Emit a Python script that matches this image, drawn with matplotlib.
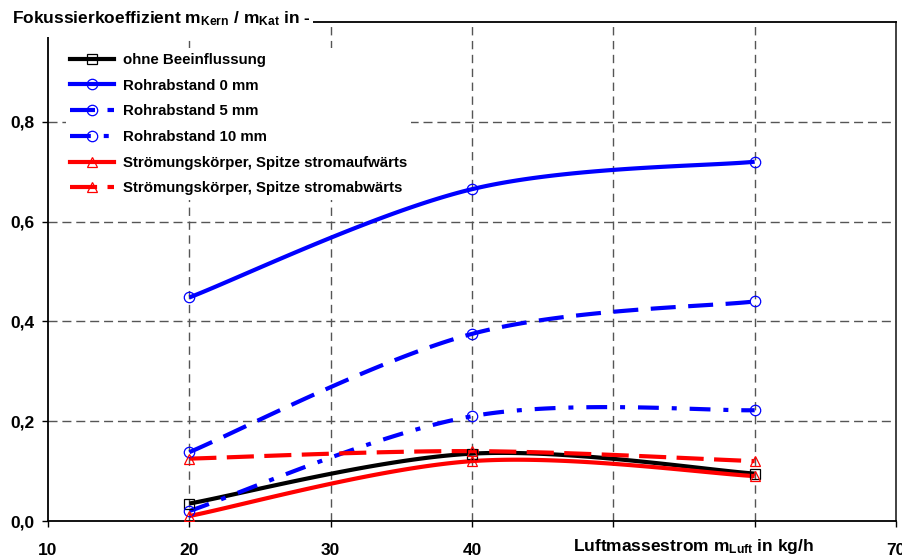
import numpy as np
import matplotlib
matplotlib.use("Agg")
import matplotlib.pyplot as plt
from matplotlib.lines import Line2D
from matplotlib.patches import Rectangle

plt.rcParams['font.family'] = ['Liberation Sans', 'DejaVu Sans']
plt.rcParams['font.weight'] = 'bold'
plt.rcParams['mathtext.fontset'] = 'custom'
plt.rcParams['mathtext.rm'] = 'Liberation Sans:bold'
plt.rcParams['mathtext.bf'] = 'Liberation Sans:bold'
plt.rcParams['mathtext.it'] = 'Liberation Sans:bold'

# ---- data ----
x_vals = [20, 40, 60]
ohne = [0.035, 0.135, 0.095]
rohr0 = [0.448, 0.665, 0.720]
rohr5 = [0.138, 0.375, 0.440]
rohr10 = [0.020, 0.210, 0.222]
auf = [0.010, 0.120, 0.090]
ab = [0.125, 0.140, 0.120]

labels = ["ohne Beeinflussung", "Rohrabstand 0 mm", "Rohrabstand 5 mm",
          "Rohrabstand 10 mm", "Strömungskörper, Spitze stromaufwärts",
          "Strömungskörper, Spitze stromabwärts"]
x_ticks = [10, 20, 30, 40, 50, 60, 70]
x_ticklabels = ["10", "20", "30", "40", "", "", "70"]
y_ticks = [0.0, 0.2, 0.4, 0.6, 0.8, 1.0]
y_ticklabels = ["0,0", "0,2", "0,4", "0,6", "0,8", ""]

fig = plt.figure(figsize=(9.03, 5.58), dpi=100)
ax = fig.add_axes([48/903, 1-521/558, 848/903, 499/558])
ax.set_xlim(10, 70)
ax.set_ylim(0, 1.0)

W, H = 848.0, 499.0


def smooth(xs, ys, n=60):
    # Excel-like Bezier smoothing in display space
    P = np.column_stack([(np.array(xs) - 10) / 60 * W, np.array(ys) * H])
    out = []
    m = len(P)
    for i in range(m - 1):
        pm = P[i - 1] if i > 0 else P[i]
        pp = P[i + 2] if i + 2 < m else P[i + 1]
        c1 = P[i] + (P[i + 1] - pm) / 6
        c2 = P[i + 1] - (pp - P[i]) / 6
        t = np.linspace(0, 1, n)[:, None]
        seg = ((1 - t) ** 3) * P[i] + 3 * ((1 - t) ** 2) * t * c1 + 3 * (1 - t) * t ** 2 * c2 + t ** 3 * P[i + 1]
        out.append(seg if i == 0 else seg[1:])
    S = np.vstack(out)
    return S[:, 0] / W * 60 + 10, S[:, 1] / H


LW = 3.0
series = [
    (ohne, 'black', '-', 's'),
    (rohr0, '#0000ff', '-', 'o'),
    (rohr5, '#0000ff', (0, (6, 3)), 'o'),
    (rohr10, '#0000ff', (0, (5, 3.1, 1.2, 3.1)), 'o'),
    (auf, '#ff0000', '-', '^'),
    (ab, '#ff0000', (0, (6.5, 2.5)), '^'),
]

handles = []
for (ys, col, ls, mk), lab in zip(series, labels):
    sx, sy = smooth(x_vals, ys)
    ax.plot(sx, sy, color=col, lw=LW, ls=ls, zorder=3, solid_capstyle='butt',
            dash_capstyle='butt')
    ax.plot(x_vals, ys, ls='none', marker=mk, markersize=7.5, markerfacecolor='none',
            markeredgecolor=col, markeredgewidth=0.9, zorder=4)
    handles.append(Line2D([0], [0], color=col, lw=LW, ls=ls, marker=mk, markersize=7.5,
                          markerfacecolor='none', markeredgecolor=col, markeredgewidth=0.9))

# grid
for gx in [20, 30, 40, 50, 60]:
    ax.axvline(gx, color='#555555', lw=1.0, ls=(0, (6, 4)), zorder=1)
for gy in [0.2, 0.4, 0.6, 0.8]:
    ax.axhline(gy, color='#555555', lw=1.0, ls=(0, (6.5, 3.5)), zorder=1)

ax.set_xticks(x_ticks)
ax.set_xticklabels(x_ticklabels)
ax.set_yticks(y_ticks)
ax.set_yticklabels(y_ticklabels)
ax.tick_params(axis='both', labelsize=12.5, length=4.5, width=1.0, direction='out')
ax.tick_params(axis='y', pad=5)
ax.tick_params(axis='x', pad=11)
for lab in ax.get_xticklabels() + ax.get_yticklabels():
    lab.set_fontweight('bold')
for sp in ax.spines.values():
    sp.set_linewidth(1.3)
ax.spines['right'].set_color('#333333')

leg = ax.legend(handles, labels, loc='upper left', bbox_to_anchor=(0.012, 0.962),
                fontsize=10.8, frameon=True, framealpha=1, edgecolor='none',
                facecolor='white', fancybox=False, handlelength=2.9,
                handletextpad=0.6, labelspacing=0.78, borderpad=0.3)
for t in leg.get_texts():
    t.set_fontweight('bold')
leg.set_zorder(5)

# white area behind the axis title (covers the top-left of the frame)
fig.patches.append(Rectangle((0, 1-37/558), 313/903, 37/558, transform=fig.transFigure,
                             facecolor='white', edgecolor='none', zorder=9))

fig.text(12/903, 1-19/558,
         r"Fokussierkoeffizient m$_{\mathbf{Kern}}$ / m$_{\mathbf{Kat}}$ in -",
         fontsize=12.5, fontweight='bold', va='center', ha='left', zorder=10)

fig.text(573/903, 1-547/558, r"Luftmassestrom m$_{\mathbf{Luft}}$ in kg/h",
         fontsize=12.5, fontweight='bold', va='center', ha='left',
         bbox=dict(facecolor='white', edgecolor='none', pad=2), zorder=10)

fig.savefig("out.png", dpi=100)
